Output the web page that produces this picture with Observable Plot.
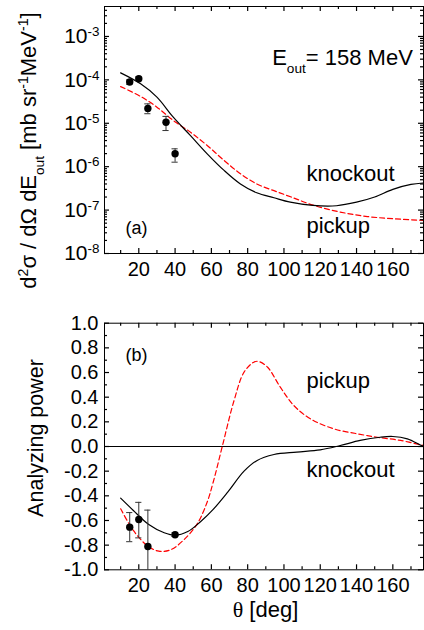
<!DOCTYPE html>
<html>
<head>
<meta charset="utf-8">
<script src="https://cdn.jsdelivr.net/npm/d3@7"></script>
<script src="https://cdn.jsdelivr.net/npm/@observablehq/plot@0.6"></script>
<style>
  html, body { margin: 0; padding: 0; background: white; }
  #chart svg { display: block; }
</style>
</head>
<body>
<div id="chart"></div>
<script>
// ---------- axis ticks ----------
const thetaTicks = [20, 40, 60, 80, 100, 120, 140, 160];
const thetaMinor = [10, 30, 50, 70, 90, 110, 130, 150, 170];
const xsDecades = [1e-8, 1e-7, 1e-6, 1e-5, 1e-4, 1e-3];
const apTicks = [-1.0, -0.8, -0.6, -0.4, -0.2, 0.0, 0.2, 0.4, 0.6, 0.8, 1.0];
const apTickLabels = ["-1.0", "-0.8", "-0.6", "-0.4", "-0.2", "0.0", "0.2", "0.4", "0.6", "0.8", "1.0"];
const apMinor = [-0.9, -0.7, -0.5, -0.3, -0.1, 0.1, 0.3, 0.5, 0.7, 0.9];

// ---------- panel (a): cross section ----------
const xsExpAngle = [15, 20, 25, 35, 40];
const xsExpValue = [8.9e-5, 1.06e-4, 2.2e-5, 1.06e-5, 1.98e-6];
const xsExpLow   = [7.9e-5, 9.6e-5, 1.66e-5, 6.8e-6, 1.27e-6];
const xsExpHigh  = [1.0e-4, 1.17e-4, 2.8e-5, 1.44e-5, 2.58e-6];

const xsKnockAngle = [10, 21, 30, 39, 48.5, 57.7, 67, 76, 85, 94.5, 103.5, 116, 129, 140, 150, 160, 170, 180];
const xsKnockValue = [1.45e-4, 8.1e-5, 4.0e-5, 1.38e-5, 5.2e-6, 1.98e-6, 8.2e-7, 4.0e-7, 2.5e-7, 1.92e-7, 1.52e-7, 1.28e-7, 1.26e-7, 1.52e-7, 2.0e-7, 3.0e-7, 3.9e-7, 4.3e-7];

const xsPickAngle = [10, 21, 30, 39, 48.5, 57.7, 67, 76, 85, 94.5, 104, 116, 131, 146, 161, 180];
const xsPickValue = [7.0e-5, 4.15e-5, 2.35e-5, 1.16e-5, 6.2e-6, 3.08e-6, 1.39e-6, 6.9e-7, 4.0e-7, 2.8e-7, 2.0e-7, 1.3e-7, 9.0e-8, 7.1e-8, 6.3e-8, 5.7e-8];

// ---------- panel (b): analyzing power ----------
const apExpAngle = [15, 20, 25, 40];
const apExpValue = [-0.654, -0.592, -0.811, -0.716];
const apExpLow   = [-0.772, -0.741, -1.05, -0.73];
const apExpHigh  = [-0.536, -0.453, -0.516, -0.70];

const apKnockAngle = [10, 17, 25.5, 34, 40, 47, 54, 61, 69, 78, 85, 94.5, 107, 120, 131, 142, 153, 160, 168, 177, 180];
const apKnockValue = [-0.419, -0.519, -0.633, -0.70, -0.72, -0.69, -0.61, -0.51, -0.37, -0.20, -0.115, -0.065, -0.045, -0.027, 0.008, 0.049, 0.075, 0.081, 0.062, 0.0, -0.01];

const apPickAngle = [10, 17, 24.6, 31, 37.5, 44.8, 52.2, 57.7, 61, 66, 72.5, 78, 83.4, 86, 91, 98, 105.4, 114.6, 127.5, 140.4, 151.4, 164.3, 177, 180];
const apPickValue = [-0.505, -0.681, -0.803, -0.849, -0.838, -0.757, -0.627, -0.45, -0.29, 0.0, 0.373, 0.603, 0.684, 0.69, 0.643, 0.481, 0.333, 0.224, 0.143, 0.103, 0.075, 0.049, 0.008, 0.0];

// ---------- build tables ----------
const zip = (A, V) => A.map((a, i) => ({a, v: V[i]}));
const xsKnock = zip(xsKnockAngle, xsKnockValue);
const xsPick = zip(xsPickAngle, xsPickValue);
const xsExp = xsExpAngle.map((a, i) => ({a, v: xsExpValue[i], lo: xsExpLow[i], hi: xsExpHigh[i]}));
const apKnock = zip(apKnockAngle, apKnockValue);
const apPick = zip(apPickAngle, apPickValue);
const apExp = apExpAngle.map((a, i) => ({a, v: apExpValue[i], lo: apExpLow[i], hi: apExpHigh[i]}));
const xsMinor = xsDecades.flatMap(d => [2,3,4,5,6,7,8,9].map(k => k * d)).filter(v => v < 4.9e-3);

const FONT = "'Liberation Sans', Arial, Helvetica, sans-serif";
const W = 424, ML = 104, MR = 1;
const FW = W - ML - MR;
const XDOM = [1.1, 176.9];
const CAP = 1.7; // half width of error bar caps (deg)
const TICKC = "black";

function frameTicks(FH, yMajor, yMinor) {
  const ax = (vals, len) => [
    Plot.ruleX(vals, {x: d => d, insetTop: FH - len, stroke: TICKC, strokeWidth: 1.2}),
    Plot.ruleX(vals, {x: d => d, insetBottom: FH - len, stroke: TICKC, strokeWidth: 1.2})
  ];
  const ay = (vals, len) => [
    Plot.ruleY(vals, {y: d => d, insetRight: FW - len, stroke: TICKC, strokeWidth: 1.2}),
    Plot.ruleY(vals, {y: d => d, insetLeft: FW - len, stroke: TICKC, strokeWidth: 1.2})
  ];
  return [...ax(thetaTicks, 5), ...ax(thetaMinor, 3), ...ay(yMajor, 5), ...ay(yMinor, 3)];
}

function errorMarks(data) {
  return [
    Plot.ruleX(data, {x: "a", y1: "lo", y2: "hi", stroke: "#333", strokeWidth: 1, clip: true}),
    Plot.ruleY(data, {y: "lo", x1: d => d.a - CAP, x2: d => d.a + CAP, stroke: "#333", strokeWidth: 1, clip: true}),
    Plot.ruleY(data, {y: "hi", x1: d => d.a - CAP, x2: d => d.a + CAP, stroke: "#333", strokeWidth: 1, clip: true}),
    Plot.dot(data, {x: "a", y: "v", r: 3.7, fill: "black", stroke: "none"})
  ];
}

// ---------- top panel ----------
const H1 = 300, MT1 = 6, MB1 = 47, FH1 = H1 - MT1 - MB1;
const chartTop = Plot.plot({
  width: W, height: H1,
  marginTop: MT1, marginBottom: MB1, marginLeft: ML, marginRight: MR,
  style: {fontFamily: FONT, fontSize: "20px", color: "black", background: "white", overflow: "visible"},
  x: {domain: XDOM},
  y: {type: "log", domain: [1e-8, 4.9e-3]},
  marks: [
    Plot.line(xsPick, {x: "a", y: "v", stroke: "#ff0000", strokeWidth: 1.2, strokeDasharray: "5,3", curve: "catmull-rom", clip: true}),
    Plot.line(xsKnock, {x: "a", y: "v", stroke: "black", strokeWidth: 1.2, curve: "catmull-rom", clip: true}),
    ...errorMarks(xsExp),
    ...frameTicks(FH1, xsDecades, xsMinor),
    Plot.frame({stroke: "black", strokeWidth: 1}),
    Plot.axisX({ticks: thetaTicks, tickSize: 0, tickPadding: 8, label: null, fontSize: 20}),
    Plot.axisY({ticks: xsDecades, tickSize: 0, tickPadding: 5, label: null, fontSize: 21,
      tickFormat: d => `10^{${Math.round(Math.log10(d))}}`}),
    Plot.text(["E_{out}= 158 MeV"], {x: 93.5, y: 2.15e-4, textAnchor: "start", lineAnchor: "bottom", fontSize: 22}),
    Plot.text(["knockout"], {x: 112.4, y: 4.8e-7, textAnchor: "start", lineAnchor: "bottom", fontSize: 22}),
    Plot.text(["pickup"], {x: 112.4, y: 2.89e-8, textAnchor: "start", lineAnchor: "bottom", fontSize: 22}),
    Plot.text(["(a)"], {x: 12.7, y: 3.77e-8, textAnchor: "start", lineAnchor: "middle", fontSize: 18}),
    Plot.text(["d^{2}σ / dΩ dE_{out} [mb sr^{-1}MeV^{-1}]"], {frameAnchor: "left", rotate: -90, dx: -69, dy: 20.5,
      textAnchor: "middle", lineAnchor: "bottom", fontSize: 22})
  ]
});

// ---------- bottom panel ----------
const H2 = 330, MT2 = 22.7, MB2 = 60.7, FH2 = H2 - MT2 - MB2;
const chartBottom = Plot.plot({
  width: W, height: H2,
  marginTop: MT2, marginBottom: MB2, marginLeft: ML, marginRight: MR,
  style: {fontFamily: FONT, fontSize: "20px", color: "black", background: "white", overflow: "visible"},
  x: {domain: XDOM},
  y: {domain: [-1, 1]},
  marks: [
    Plot.ruleY([0], {stroke: "black", strokeWidth: 1}),
    Plot.line(apPick, {x: "a", y: "v", stroke: "#ff0000", strokeWidth: 1.2, strokeDasharray: "5,3", curve: "catmull-rom", clip: true}),
    Plot.line(apKnock, {x: "a", y: "v", stroke: "black", strokeWidth: 1.2, curve: "catmull-rom", clip: true}),
    ...errorMarks(apExp),
    ...frameTicks(FH2, apTicks, apMinor),
    Plot.frame({stroke: "black", strokeWidth: 1}),
    Plot.axisX({ticks: thetaTicks, tickSize: 0, tickPadding: 8, label: null, fontSize: 20}),
    Plot.axisY({ticks: apTicks, tickSize: 0, tickPadding: 6, label: null, fontSize: 20,
      tickFormat: d => apTickLabels[apTicks.indexOf(d)]}),
    Plot.text(["pickup"], {x: 112.4, y: 0.478, textAnchor: "start", lineAnchor: "bottom", fontSize: 22}),
    Plot.text(["knockout"], {x: 112.4, y: -0.249, textAnchor: "start", lineAnchor: "bottom", fontSize: 22}),
    Plot.text(["(b)"], {x: 12.7, y: 0.738, textAnchor: "start", lineAnchor: "middle", fontSize: 18}),
    Plot.text(["Analyzing power"], {frameAnchor: "left", rotate: -90, dx: -61.5, dy: -8.5,
      textAnchor: "middle", lineAnchor: "bottom", fontSize: 21.5}),
    Plot.text(["~{θ} [deg]"], {frameAnchor: "bottom", dx: 1.5, dy: 46.7, textAnchor: "middle", lineAnchor: "bottom", fontSize: 22})
  ]
});

// ---------- rich text (super/subscripts) ----------
function richify(svg) {
  svg.querySelectorAll("text").forEach(t => {
    const s = t.textContent;
    if (!/[_^~]\{/.test(s)) return;
    t.textContent = "";
    const re = /([_^~])\{([^}]*)\}|([^_^~]+|[_^~])/g;
    let m;
    while ((m = re.exec(s))) {
      const span = document.createElementNS("http://www.w3.org/2000/svg", "tspan");
      if (m[1]) {
        span.textContent = m[2];
        if (m[1] === "^") { span.setAttribute("baseline-shift", "super"); span.style.fontSize = "64%"; }
        else if (m[1] === "_") { span.setAttribute("baseline-shift", "sub"); span.style.fontSize = "62%"; }
        else { span.style.fontFamily = "'Liberation Serif', 'DejaVu Serif', serif"; }
      } else {
        span.textContent = m[3];
      }
      t.appendChild(span);
    }
  });
}
richify(chartTop);
richify(chartBottom);

const root = document.getElementById("chart");
root.appendChild(chartTop);
root.appendChild(chartBottom);
</script>
</body>
</html>
